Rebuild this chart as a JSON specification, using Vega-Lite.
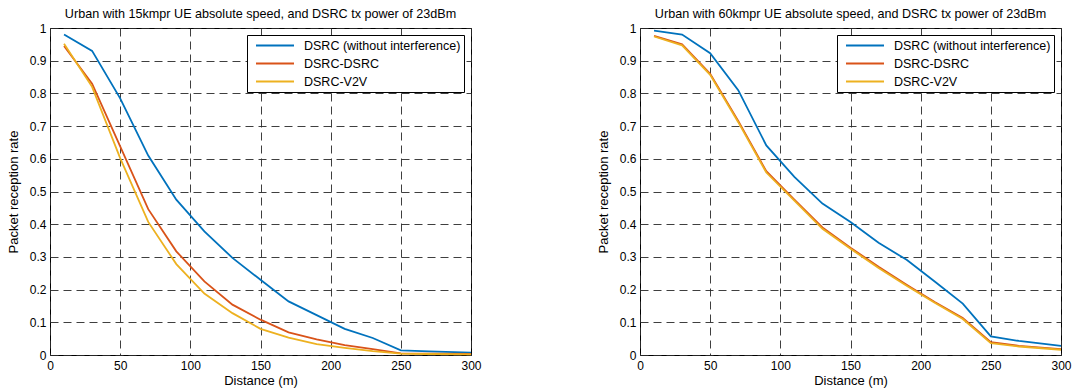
{
  "$schema": "https://vega.github.io/schema/vega-lite/v6.json",
  "background": "white",
  "padding": {"left": 6, "top": 7, "right": 10, "bottom": 0},
  "bounds": "flush",
  "spacing": 169,
  "resolve": {"legend": {"color": "independent"}},
  "config": {
    "font": "Liberation Sans",
    "view": {"stroke": "black", "strokeWidth": 1},
    "axis": {"grid": true, "gridColor": "#2a2a2a", "gridDash": [8, 5], "gridOpacity": 0.9, "gridWidth": 1, "domain": false, "ticks": false, "labelFontSize": 12, "labelColor": "black", "titleFontSize": 13, "titleFontWeight": "normal", "titleColor": "black", "labelPadding": 4, "labelFlush": false},
    "axisX": {"labelPadding": 5, "titlePadding": 3},
    "axisY": {"titlePadding": 9},
    "title": {"fontSize": 12.6, "fontWeight": "normal", "color": "black", "offset": 1},
    "legend": {"orient": "top-right", "offset": 7, "strokeColor": "black", "fillColor": "white", "padding": 3, "symbolType": "stroke", "symbolStrokeWidth": 2, "symbolSize": 1444, "symbolOffset": 5, "labelOffset": 9, "clipHeight": 15, "rowPadding": 3, "labelFontSize": 12.5, "labelColor": "black", "labelLimit": 400, "title": null}
  },
  "datasets": {
    "prr": [
      {"p": "L", "s": "DSRC (without interference)", "d": 10, "v": 0.98},
      {"p": "L", "s": "DSRC (without interference)", "d": 30, "v": 0.93},
      {"p": "L", "s": "DSRC (without interference)", "d": 50, "v": 0.785},
      {"p": "L", "s": "DSRC (without interference)", "d": 70, "v": 0.61},
      {"p": "L", "s": "DSRC (without interference)", "d": 90, "v": 0.475},
      {"p": "L", "s": "DSRC (without interference)", "d": 110, "v": 0.378},
      {"p": "L", "s": "DSRC (without interference)", "d": 130, "v": 0.297},
      {"p": "L", "s": "DSRC (without interference)", "d": 150, "v": 0.23},
      {"p": "L", "s": "DSRC (without interference)", "d": 170, "v": 0.164},
      {"p": "L", "s": "DSRC (without interference)", "d": 190, "v": 0.122},
      {"p": "L", "s": "DSRC (without interference)", "d": 210, "v": 0.08},
      {"p": "L", "s": "DSRC (without interference)", "d": 230, "v": 0.052},
      {"p": "L", "s": "DSRC (without interference)", "d": 250, "v": 0.014},
      {"p": "L", "s": "DSRC (without interference)", "d": 270, "v": 0.011},
      {"p": "L", "s": "DSRC (without interference)", "d": 300, "v": 0.007},
      {"p": "L", "s": "DSRC-DSRC", "d": 10, "v": 0.945},
      {"p": "L", "s": "DSRC-DSRC", "d": 30, "v": 0.83},
      {"p": "L", "s": "DSRC-DSRC", "d": 50, "v": 0.638},
      {"p": "L", "s": "DSRC-DSRC", "d": 70, "v": 0.446},
      {"p": "L", "s": "DSRC-DSRC", "d": 90, "v": 0.317},
      {"p": "L", "s": "DSRC-DSRC", "d": 110, "v": 0.225},
      {"p": "L", "s": "DSRC-DSRC", "d": 130, "v": 0.154},
      {"p": "L", "s": "DSRC-DSRC", "d": 150, "v": 0.108},
      {"p": "L", "s": "DSRC-DSRC", "d": 170, "v": 0.069},
      {"p": "L", "s": "DSRC-DSRC", "d": 190, "v": 0.048},
      {"p": "L", "s": "DSRC-DSRC", "d": 210, "v": 0.03},
      {"p": "L", "s": "DSRC-DSRC", "d": 230, "v": 0.018},
      {"p": "L", "s": "DSRC-DSRC", "d": 250, "v": 0.005},
      {"p": "L", "s": "DSRC-DSRC", "d": 270, "v": 0.004},
      {"p": "L", "s": "DSRC-DSRC", "d": 300, "v": 0.003},
      {"p": "L", "s": "DSRC-V2V", "d": 10, "v": 0.952},
      {"p": "L", "s": "DSRC-V2V", "d": 30, "v": 0.82},
      {"p": "L", "s": "DSRC-V2V", "d": 50, "v": 0.602},
      {"p": "L", "s": "DSRC-V2V", "d": 70, "v": 0.407},
      {"p": "L", "s": "DSRC-V2V", "d": 90, "v": 0.278},
      {"p": "L", "s": "DSRC-V2V", "d": 110, "v": 0.188},
      {"p": "L", "s": "DSRC-V2V", "d": 130, "v": 0.128},
      {"p": "L", "s": "DSRC-V2V", "d": 150, "v": 0.08},
      {"p": "L", "s": "DSRC-V2V", "d": 170, "v": 0.053},
      {"p": "L", "s": "DSRC-V2V", "d": 190, "v": 0.033},
      {"p": "L", "s": "DSRC-V2V", "d": 210, "v": 0.022},
      {"p": "L", "s": "DSRC-V2V", "d": 230, "v": 0.012},
      {"p": "L", "s": "DSRC-V2V", "d": 250, "v": 0.004},
      {"p": "L", "s": "DSRC-V2V", "d": 270, "v": 0.003},
      {"p": "L", "s": "DSRC-V2V", "d": 300, "v": 0.002},
      {"p": "R", "s": "DSRC (without interference)", "d": 10, "v": 0.992},
      {"p": "R", "s": "DSRC (without interference)", "d": 30, "v": 0.98},
      {"p": "R", "s": "DSRC (without interference)", "d": 50, "v": 0.923},
      {"p": "R", "s": "DSRC (without interference)", "d": 70, "v": 0.81},
      {"p": "R", "s": "DSRC (without interference)", "d": 90, "v": 0.641},
      {"p": "R", "s": "DSRC (without interference)", "d": 110, "v": 0.545},
      {"p": "R", "s": "DSRC (without interference)", "d": 130, "v": 0.463},
      {"p": "R", "s": "DSRC (without interference)", "d": 150, "v": 0.407},
      {"p": "R", "s": "DSRC (without interference)", "d": 170, "v": 0.343},
      {"p": "R", "s": "DSRC (without interference)", "d": 190, "v": 0.291},
      {"p": "R", "s": "DSRC (without interference)", "d": 210, "v": 0.225},
      {"p": "R", "s": "DSRC (without interference)", "d": 230, "v": 0.157},
      {"p": "R", "s": "DSRC (without interference)", "d": 250, "v": 0.057},
      {"p": "R", "s": "DSRC (without interference)", "d": 270, "v": 0.043},
      {"p": "R", "s": "DSRC (without interference)", "d": 300, "v": 0.028},
      {"p": "R", "s": "DSRC-DSRC", "d": 10, "v": 0.976},
      {"p": "R", "s": "DSRC-DSRC", "d": 30, "v": 0.95},
      {"p": "R", "s": "DSRC-DSRC", "d": 50, "v": 0.86},
      {"p": "R", "s": "DSRC-DSRC", "d": 70, "v": 0.716},
      {"p": "R", "s": "DSRC-DSRC", "d": 90, "v": 0.562},
      {"p": "R", "s": "DSRC-DSRC", "d": 110, "v": 0.475},
      {"p": "R", "s": "DSRC-DSRC", "d": 130, "v": 0.39},
      {"p": "R", "s": "DSRC-DSRC", "d": 150, "v": 0.328},
      {"p": "R", "s": "DSRC-DSRC", "d": 170, "v": 0.27},
      {"p": "R", "s": "DSRC-DSRC", "d": 190, "v": 0.215},
      {"p": "R", "s": "DSRC-DSRC", "d": 210, "v": 0.162},
      {"p": "R", "s": "DSRC-DSRC", "d": 230, "v": 0.113},
      {"p": "R", "s": "DSRC-DSRC", "d": 250, "v": 0.039},
      {"p": "R", "s": "DSRC-DSRC", "d": 270, "v": 0.028},
      {"p": "R", "s": "DSRC-DSRC", "d": 300, "v": 0.018},
      {"p": "R", "s": "DSRC-V2V", "d": 10, "v": 0.974},
      {"p": "R", "s": "DSRC-V2V", "d": 30, "v": 0.947},
      {"p": "R", "s": "DSRC-V2V", "d": 50, "v": 0.857},
      {"p": "R", "s": "DSRC-V2V", "d": 70, "v": 0.712},
      {"p": "R", "s": "DSRC-V2V", "d": 90, "v": 0.558},
      {"p": "R", "s": "DSRC-V2V", "d": 110, "v": 0.472},
      {"p": "R", "s": "DSRC-V2V", "d": 130, "v": 0.386},
      {"p": "R", "s": "DSRC-V2V", "d": 150, "v": 0.325},
      {"p": "R", "s": "DSRC-V2V", "d": 170, "v": 0.266},
      {"p": "R", "s": "DSRC-V2V", "d": 190, "v": 0.212},
      {"p": "R", "s": "DSRC-V2V", "d": 210, "v": 0.16},
      {"p": "R", "s": "DSRC-V2V", "d": 230, "v": 0.11},
      {"p": "R", "s": "DSRC-V2V", "d": 250, "v": 0.036},
      {"p": "R", "s": "DSRC-V2V", "d": 270, "v": 0.026},
      {"p": "R", "s": "DSRC-V2V", "d": 300, "v": 0.016}
    ]
  },
  "hconcat": [
    {
      "width": 421,
      "height": 327,
      "title": "Urban with 15kmpr UE absolute speed, and DSRC tx power of 23dBm",
      "data": {"name": "prr"},
      "transform": [{"filter": "datum.p === 'L'"}],
      "mark": {"type": "line", "strokeWidth": 1.8},
      "encoding": {
        "x": {"field": "d", "type": "quantitative", "title": "Distance (m)", "scale": {"domain": [0, 300], "nice": false}, "axis": {"values": [0, 50, 100, 150, 200, 250, 300]}},
        "y": {"field": "v", "type": "quantitative", "title": "Packet reception rate", "scale": {"domain": [0, 1], "nice": false}, "axis": {"values": [0, 0.1, 0.2, 0.3, 0.4, 0.5, 0.6, 0.7, 0.8, 0.9, 1], "format": "~g"}},
        "color": {"field": "s", "type": "nominal", "scale": {"domain": ["DSRC (without interference)", "DSRC-DSRC", "DSRC-V2V"], "range": ["#0072BD", "#D95319", "#EDB120"]}},
        "order": {"field": "d"}
      }
    },
    {
      "width": 421,
      "height": 327,
      "title": "Urban with 60kmpr UE absolute speed, and DSRC tx power of 23dBm",
      "data": {"name": "prr"},
      "transform": [{"filter": "datum.p === 'R'"}],
      "mark": {"type": "line", "strokeWidth": 1.8},
      "encoding": {
        "x": {"field": "d", "type": "quantitative", "title": "Distance (m)", "scale": {"domain": [0, 300], "nice": false}, "axis": {"values": [0, 50, 100, 150, 200, 250, 300]}},
        "y": {"field": "v", "type": "quantitative", "title": "Packet reception rate", "scale": {"domain": [0, 1], "nice": false}, "axis": {"values": [0, 0.1, 0.2, 0.3, 0.4, 0.5, 0.6, 0.7, 0.8, 0.9, 1], "format": "~g"}},
        "color": {"field": "s", "type": "nominal", "scale": {"domain": ["DSRC (without interference)", "DSRC-DSRC", "DSRC-V2V"], "range": ["#0072BD", "#D95319", "#EDB120"]}},
        "order": {"field": "d"}
      }
    }
  ]
}
